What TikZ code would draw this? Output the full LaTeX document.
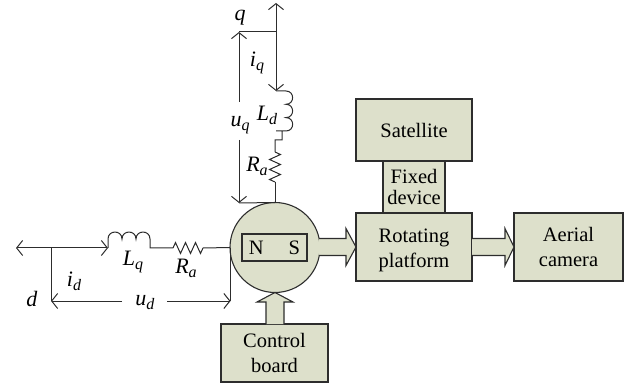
\documentclass[tikz,border=0pt]{standalone}
\usepackage{fontspec}
\setmainfont{Liberation Serif}
\usetikzlibrary{arrows.meta}
\usetikzlibrary{decorations.pathmorphing}
\usetikzlibrary{calc}
\definecolor{boxfill}{RGB}{221,224,203}
\definecolor{wirecol}{RGB}{45,45,45}
\newcommand{\symb}[2]{\textit{#1}\raisebox{-4pt}{\fontsize{16}{16}\selectfont\textit{#2}}}
\tikzset{
  block/.style={draw=wirecol,fill=boxfill,line width=1.1pt,align=center,inner sep=0pt,outer sep=0pt,
    font=\fontsize{20.5}{25}\selectfont},
  blockarrow/.style={draw=wirecol,fill=boxfill,line width=1.1pt,line join=miter},
  wire/.style={draw=wirecol,line width=1pt},
  symb/.style={inner sep=0pt,text=black,font=\fontsize{22}{24}\selectfont},
  res/.style={decorate,decoration={zigzag,segment length=10pt,amplitude=5.5pt}},
  hump/.style={out=#1,in=#1,looseness=1.7},
}
\begin{document}
\begin{tikzpicture}[x=1pt,y=-1pt,>={Straight Barb[length=6pt,width=15pt]}]
      \useasboundingbox (0,0) rectangle (630,385);

      \node[block,circle,minimum size=90pt] (motor) at (275,247.5) {};
      \node[block,minimum width=65pt,minimum height=27pt] (magnet) at (274.5,247.5)
        {N\hspace{25pt}S};
      \node[block,minimum width=116pt,minimum height=62pt] (satellite) at (414,130) {Satellite};
      \node[block,minimum width=62pt,minimum height=52pt,font=\fontsize{20.5}{21}\selectfont] (fixed) at (414,187) {Fixed\\device};
      \node[block,minimum width=116pt,minimum height=68pt] (rotating) at (414,247) {\rule{0pt}{21pt}Rotating\\platform};
      \node[block,minimum width=109pt,minimum height=68pt] (camera) at (568.5,247) {Aerial\\camera};
      \node[block,minimum width=107pt,minimum height=58pt] (board) at (274.5,353) {Control\\board};

      % block arrows
      \begin{scope}[shift={(rotating.west)}]
        \draw[blockarrow] +(-36.8,-8.5) -- +(-10,-8.5) -- +(-10,-18.5) -- +(0,0)
          -- +(-10,18.5) -- +(-10,8.5) -- +(-36.8,8.5);
      \end{scope}
      \begin{scope}[shift={(camera.west)}]
        \draw[blockarrow] +(-42,-8.5) -- +(-9,-8.5) -- +(-9,-18.5) -- +(0,0)
          -- +(-9,18.5) -- +(-9,8.5) -- +(-42,8.5);
      \end{scope}
      \begin{scope}[shift={(motor.south)}]
        \draw[blockarrow] +(-9,31.5) -- +(-9,9.5) -- +(-18,9.5) -- +(0,0)
          -- +(18,9.5) -- +(9,9.5) -- +(9,31.5);
      \end{scope}

      % d axis
      \coordinate (dleft) at (16,248);
      \coordinate (dbranch) at (51,248);
      \coordinate (dlow) at (51,301);
      \coordinate (dtip) at (108,248);
      \coordinate (dright) at (230.5,301);
      \coordinate (dwest) at (230.5,248);
      \coordinate (coilA) at (150,248);
      \coordinate (resA) at (173,248);
      \coordinate (resB) at (203,248);
      \coordinate (udA) at (122,301);
      \coordinate (udB) at (167,301);
      \node[symb] (ud) at (145,303) {\symb{u}{d}};
      \node[symb] (Lq) at (133,262) {\symb{L}{q}};
      \node[symb] (Rd) at (186,268) {\symb{R}{a}};
      \node[symb] (id) at (74,281) {\symb{i}{d}};
      \node[symb] (d) at (32,299) {\textit{d}};
      \draw[wire,->] (udA) -- (dlow);
      \draw[wire,->] (udB) -- (dright);
      \draw[wire,->] (dbranch) -- (dleft);
      \draw[wire,->] (dbranch) -- (dtip);
      \draw[wire] (dbranch) -- (dlow);
      \draw[wire] (dwest) -- (dright);
      \draw[wire] (dtip) -- ++(0,-9) to[hump=90] ++(14,0) to[hump=90] ++(14,0)
        to[hump=90] ++(14,0) -- (coilA) -- (resA);
      \draw[wire,res] (resA) -- (resB);
      \draw[wire] (resB) -- (motor.west);

      % q axis
      \coordinate (qtop) at (276,3);
      \coordinate (qbranch) at (276,32);
      \coordinate (qleft) at (239,32);
      \coordinate (qtip) at (276,91);
      \coordinate (qlow) at (239,203);
      \coordinate (coilB) at (282,131);
      \coordinate (resC) at (275,152);
      \coordinate (resD) at (275,182);
      \coordinate (uqA) at (239,102);
      \coordinate (uqB) at (239,140);
      \node[symb] (uq) at (240,125) {\symb{u}{q}};
      \node[symb] (q) at (240,18) {\textit{q}};
      \node[symb] (iq) at (257,63) {\symb{i}{q}};
      \node[symb] (Ld) at (267,115) {\symb{L}{d}};
      \node[symb] (Rq) at (257,166) {\symb{R}{a}};
      \draw[wire,->] (uqA) -- (qleft);
      \draw[wire,->] (uqB) -- (qlow);
      \draw[wire,->] (qbranch) -- (qtop);
      \draw[wire,->] (qbranch) -- (qtip);
      \draw[wire] (qbranch) -- (qleft);
      \draw[wire] (qlow) -- (motor.north);
      \draw[wire] (qtip) -- ++(10,0) to[hump=0] ++(0,13.3) to[hump=0] ++(0,13.3)
        to[hump=0] ++(0,13.4) -- (276,131) -- (coilB) -- ++(0,9) -- ++(-7,0) -- (resC);
      \draw[wire,res] (resC) -- (resD);
      \draw[wire] (resD) -- (motor.north);
    \end{tikzpicture}
\end{document}
